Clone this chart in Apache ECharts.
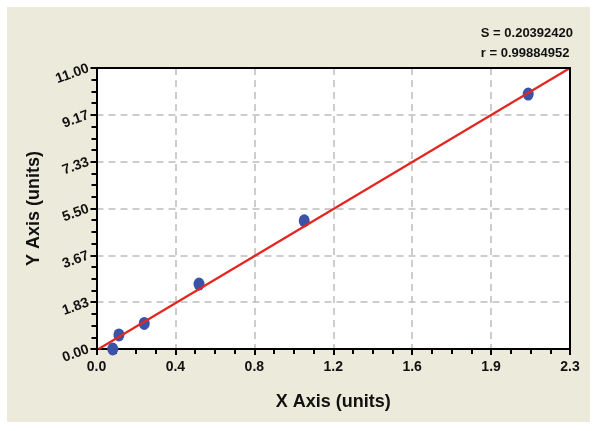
<!DOCTYPE html>
<html>
<head>
<meta charset="utf-8">
<style>html,body{margin:0;padding:0;background:#fff;}#c{width:600px;height:431px;}</style>
<script src="https://cdn.jsdelivr.net/npm/echarts@6/dist/echarts.min.js"></script>
</head>
<body>
<div id="c"></div>
<script>
// Data
const pointX = [0.079, 0.109, 0.232, 0.498, 1.009, 2.097];
const pointY = [0.00, 0.55, 1.00, 2.54, 5.02, 9.98];
const fitX = [0.01, 2.30];
const fitY = [0.00, 11.00];
const xTickLabels = ['0.0', '0.4', '0.8', '1.2', '1.6', '1.9', '2.3'];
const yTickLabels = ['0.00', '1.83', '3.67', '5.50', '7.33', '9.17', '11.00'];
const xMax = 2.3, yMax = 11;
const statLines = ['S = 0.20392420', 'r = 0.99884952'];

const xInt = xMax / 6, yInt = yMax / 6;
const chart = echarts.init(document.getElementById('c'), null, {renderer: 'canvas'});
const fontFam = '"Liberation Sans", Arial, sans-serif';
const axisCommon = {
  axisLine: {show: true, onZero: false, lineStyle: {color: '#000', width: 2}},
  axisTick: {show: true, inside: false, length: 6, lineStyle: {color: '#000', width: 2}},
  minorTick: {show: true, splitNumber: 4, length: 5, lineStyle: {color: '#000', width: 2}},
  splitLine: {show: true, lineStyle: {color: '#bdbdbd', type: [7, 5], width: 1.5}},
  minorSplitLine: {show: false}
};
const borderAxis = {
  type: 'value', axisLine: {show: true, onZero: false, lineStyle: {color: '#000', width: 2}},
  axisTick: {show: false}, axisLabel: {show: false}, splitLine: {show: false}, z: 10
};
chart.setOption({
  backgroundColor: '#ffffff',
  animation: false,
  graphic: [
    {type: 'rect', z: -10, shape: {x: 7, y: 7, width: 583, height: 415}, style: {fill: '#ecebdb'}},
    {type: 'text', z: 10, right: 27, top: 23, style: {text: statLines.join('\n'), align: 'right', font: 'bold 13px ' + fontFam, fill: '#111', lineHeight: 20}}
  ],
  grid: {left: 96.5, top: 68, right: 30, bottom: 82, show: true, backgroundColor: '#fff', borderWidth: 0},
  xAxis: [Object.assign({
    type: 'value', min: 0, max: xMax, interval: xInt,
    name: 'X Axis (units)', nameLocation: 'middle', nameGap: 44,
    nameTextStyle: {fontFamily: fontFam, fontWeight: 'bold', fontSize: 18, color: '#111'},
    axisLabel: {
      margin: 11, fontFamily: fontFam, fontWeight: 'bold', fontSize: 14, color: '#111',
      formatter: v => xTickLabels[Math.round(v / xInt)]
    }
  }, axisCommon),
  Object.assign({position: 'top', min: 0, max: xMax}, borderAxis)],
  yAxis: [Object.assign({
    type: 'value', min: 0, max: yMax, interval: yInt,
    name: 'Y Axis (units)', nameLocation: 'middle', nameGap: 53,
    nameTextStyle: {fontFamily: fontFam, fontWeight: 'bold', fontSize: 18, color: '#111'},
    axisLabel: {
      margin: 8, rotate: 20, fontFamily: fontFam, fontWeight: 'bold', fontSize: 14, color: '#111',
      formatter: v => yTickLabels[Math.round(v / yInt)]
    }
  }, axisCommon),
  Object.assign({position: 'right', min: 0, max: yMax}, borderAxis)],
  series: [
    {
      type: 'line', data: fitX.map((x, i) => [x, fitY[i]]), showSymbol: false, symbol: 'none',
      lineStyle: {color: '#e3261f', width: 2.2}, z: 3
    },
    {
      type: 'scatter', data: pointX.map((x, i) => [x, pointY[i]]), symbol: 'circle', symbolSize: [11, 13],
      itemStyle: {color: '#3a52a8', opacity: 1}, z: 2
    }
  ]
});
</script>
</body>
</html>
